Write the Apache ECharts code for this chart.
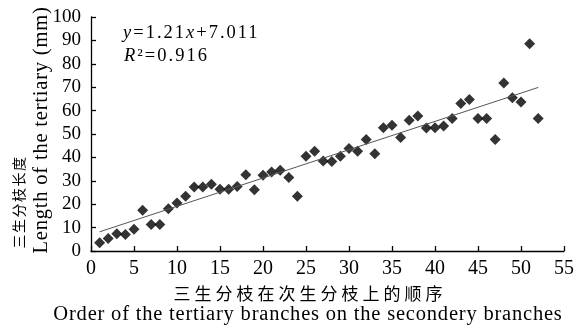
<!DOCTYPE html>
<html>
<head>
<meta charset="utf-8">
<script src="https://cdn.jsdelivr.net/npm/echarts@6/dist/echarts.min.js"></script>
<style>
html,body{margin:0;padding:0;background:#fff;}
#chart{width:577px;height:328px;}
</style>
</head>
<body>
<div id="chart"></div>
<script>
// Order of the tertiary branch (x) and its length in mm (y)
var orderX = [1,2,3,4,5,6,7,8,9,10,11,12,13,14,15,16,17,18,19,20,21,22,23,24,25,26,
  27,28,29,30,31,32,33,34,35,36,37,38,39,40,41,42,43,44,45,46,47,48,49,50,51,52];
var lengthY = [3.5,5.3,7.4,7.1,9.3,17.4,11.3,11.3,18.1,20.5,23.4,27.4,27.4,28.5,26.4,26.4,
  27.6,32.6,26.2,32.4,33.8,34.5,31.4,23.4,40.5,42.6,38.5,38.3,40.5,43.8,42.6,47.6,41.6,
  52.7,53.7,48.5,55.9,57.7,52.6,52.7,53.4,56.6,63,64.7,56.6,56.6,47.7,71.8,65.5,63.7,88.6,56.6];
// Fitted trend line end points (y = 1.21x + 7.011)
var trendX = [1, 52];
var trendY = [8.2, 69.9];
// Axis ranges / ticks
var xRange = [0, 55, 5];
var yRange = [0, 100, 10];
// Texts
var equationText = '{i|y}=1.21{i|x}+7.011';
var r2Text = '{i|R}²=0.916';
var xTitleZh = '三生分枝在次生分枝上的顺序';
var xTitleEn = 'Order of the tertiary branches on the secondery branches';
var yTitleZh = '三生分枝长度';
var yTitleEn = 'Length of the tertiary (mm)';

var serif = '"Liberation Serif", "Times New Roman", serif';
var cjk = '"Noto Sans CJK SC", sans-serif';

// Wider letter spacing of the original typesetting (canvas letterSpacing by font)
(function () {
  var P = CanvasRenderingContext2D.prototype;
  function spacingFor(font) {
    var m = /([\d.]+)px/.exec(font || '');
    if (!m) return 0;
    var s = parseFloat(m[1]);
    if (/CJK/.test(font)) {
      if (s === 17) return 4;
      if (s === 14) return 1.5;
      return 0;
    }
    if (s === 18.5) return 2;
    if (s === 20.5) return 0.8;
    return 0;
  }
  function apply(ctx) {
    if ('letterSpacing' in ctx) ctx.letterSpacing = spacingFor(ctx.font) + 'px';
  }
  var fill = P.fillText, stroke = P.strokeText, measure = P.measureText;
  P.fillText = function () { apply(this); return fill.apply(this, arguments); };
  P.strokeText = function () { apply(this); return stroke.apply(this, arguments); };
  P.measureText = function () { apply(this); return measure.apply(this, arguments); };
})();

var points = orderX.map(function (x, i) { return [x, lengthY[i]]; });
var trend = trendX.map(function (x, i) { return [x, trendY[i]]; });

var chart = echarts.init(document.getElementById('chart'));
chart.setOption({
  animation: false,
  backgroundColor: '#fff',
  grid: { left: 91, right: 11, top: 17, bottom: 77, containLabel: false },
  xAxis: {
    type: 'value', min: xRange[0], max: xRange[1], interval: xRange[2],
    axisLine: { show: true, onZero: false, lineStyle: { color: '#000', width: 1.3 } },
    axisTick: { show: true, inside: true, length: 5, lineStyle: { color: '#000', width: 1.3 } },
    axisLabel: { color: '#000', fontFamily: serif, fontSize: 20, margin: 8 },
    splitLine: { show: false }
  },
  yAxis: {
    type: 'value', min: yRange[0], max: yRange[1], interval: yRange[2],
    axisLine: { show: true, onZero: false, lineStyle: { color: '#000', width: 1.3 } },
    axisTick: { show: true, inside: true, length: 5, lineStyle: { color: '#000', width: 1.3 } },
    axisLabel: { color: '#000', fontFamily: serif, fontSize: 19, margin: 10 },
    splitLine: { show: false }
  },
  series: [
    {
      type: 'scatter',
      data: points,
      symbol: 'diamond',
      symbolSize: 11,
      itemStyle: { color: '#000' },
      z: 2
    },
    {
      type: 'line',
      data: trend,
      symbol: 'none',
      lineStyle: { color: '#555', width: 1 },
      z: 3,
      silent: true
    }
  ],
  graphic: [
    {
      type: 'text', x: 123, y: 33.5,
      style: {
        text: equationText, fill: '#000', font: '18.5px ' + serif,
        verticalAlign: 'middle', align: 'left',
        rich: { i: { fontStyle: 'italic', fontFamily: serif, fontSize: 18.5, fill: '#000' } }
      }
    },
    {
      type: 'text', x: 124, y: 56,
      style: {
        text: r2Text, fill: '#000', font: '18.5px ' + serif,
        verticalAlign: 'middle', align: 'left',
        rich: { i: { fontStyle: 'italic', fontFamily: serif, fontSize: 18.5, fill: '#000' } }
      }
    },
    {
      type: 'text', x: 310, y: 294,
      style: { text: xTitleZh, fill: '#000', font: '17px ' + cjk, align: 'center', verticalAlign: 'middle' }
    },
    {
      type: 'text', x: 308, y: 315,
      style: { text: xTitleEn, fill: '#000', font: '20.5px ' + serif, align: 'center', verticalAlign: 'middle' }
    },
    {
      type: 'text', x: 42, y: 130, rotation: Math.PI / 2,
      style: { text: yTitleEn, fill: '#000', font: '20.5px ' + serif, align: 'center', verticalAlign: 'middle' }
    },
    {
      type: 'text', x: 19, y: 202, rotation: Math.PI / 2,
      style: { text: yTitleZh, fill: '#000', font: '14px ' + cjk, align: 'center', verticalAlign: 'middle' }
    }
  ]
});
</script>
</body>
</html>
